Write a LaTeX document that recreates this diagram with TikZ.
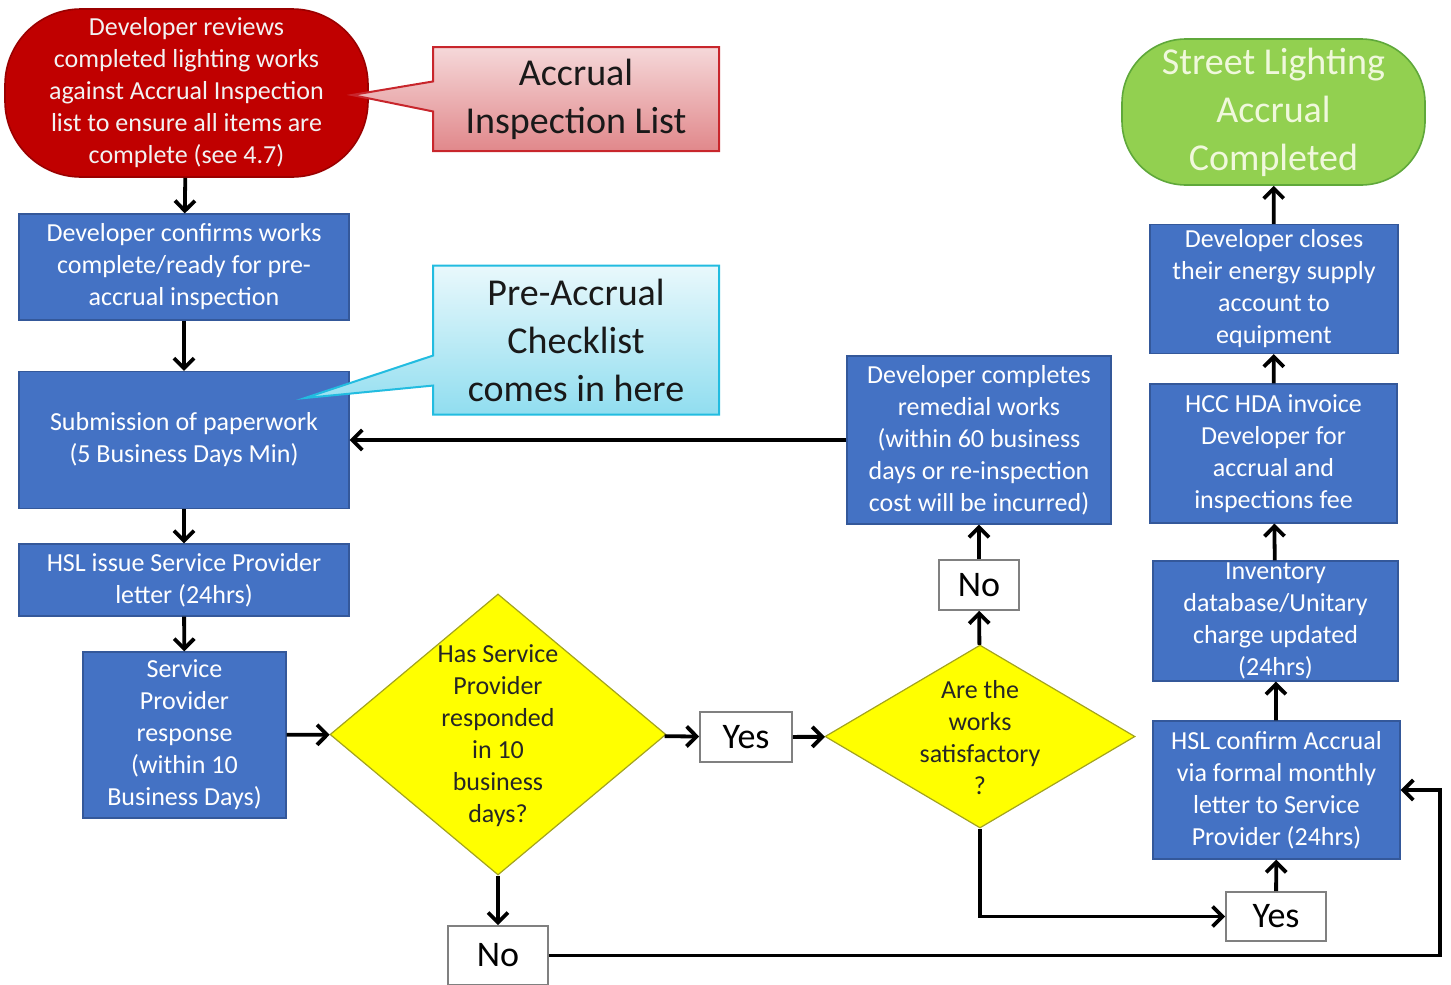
\documentclass[tikz,border=0pt]{standalone}
\usepackage{fontspec}
\setmainfont{Carlito}
\usetikzlibrary{arrows.meta, shapes.geometric, shapes.callouts}

\definecolor{procblue}{HTML}{4472C4}
\definecolor{procedge}{HTML}{34589A}
\definecolor{startred}{HTML}{C00000}
\definecolor{startedge}{HTML}{9A0000}
\definecolor{endgreen}{HTML}{92D050}
\definecolor{endedge}{HTML}{5FA83A}
\definecolor{endtext}{HTML}{F0F8DC}
\definecolor{askyellow}{HTML}{FFFF00}
\definecolor{askedge}{HTML}{A3A31E}
\definecolor{notepink}{HTML}{C8262C}
\definecolor{notecyan}{HTML}{22BCE0}

\begin{document}
\begin{tikzpicture}[
  x=0.5pt, y=-0.5pt,
  >={Straight Barb[length=5pt,width=10pt]},
  flow/.style={->, line width=1.9pt},
  procbox/.style={draw=procedge, fill=procblue, text=white, line width=0.6pt,
    align=center, inner sep=0pt, font=\fontsize{13}{16}\selectfont},
  startbox/.style={draw=startedge, fill=startred, text=white!95!black, line width=0.8pt,
    rounded corners=38pt, align=center, inner sep=0pt,
    minimum width=181.5pt, minimum height=84pt, font=\fontsize{13}{16}\selectfont},
  endbox/.style={draw=endedge, fill=endgreen, text=endtext, line width=0.8pt,
    rounded corners=32pt, align=center, inner sep=0pt,
    minimum width=151.5pt, minimum height=73pt, font=\fontsize{19}{24}\selectfont},
  decision/.style={diamond, draw=askedge, fill=askyellow, line width=0.6pt,
    inner sep=0pt, aspect=1.2},
  asktext/.style={align=center, inner sep=0pt, text=black!85,
    font=\fontsize{13}{16}\selectfont},
  answer/.style={draw=black!50, fill=white, line width=0.8pt, inner sep=0pt,
    minimum width=46pt, minimum height=25pt, font=\fontsize{18}{20}\selectfont},
  note/.style={rectangle callout, line width=1pt, align=center, inner sep=0pt,
    callout pointer width=15pt, minimum width=143pt, text=black!90,
    font=\fontsize{19}{24}\selectfont}
  ]
  \useasboundingbox (0,0) rectangle (1451,985);

  % left column
  \node[startbox] (review) at (186.5,93) {Developer reviews\\completed lighting works\\against Accrual Inspection\\list to ensure all items are\\complete (see 4.7)};
  \node[note, draw=notepink, top color=notepink!18, bottom color=notepink!55,
    minimum height=52pt, callout absolute pointer={(352,95)}] (acclist) at (576,99)
    {Accrual\\Inspection List};
  \node[procbox, minimum width=165pt, minimum height=53pt] (ready) at (184,267)
    {Developer confirms works\\complete/ready for pre-\\accrual inspection};
  \node[procbox, minimum width=165pt, minimum height=68.5pt] (submit) at (184,440)
    {Submission of paperwork\\(5 Business Days Min)};
  \node[note, draw=notecyan, top color=notecyan!10, bottom color=notecyan!50,
    minimum height=74.5pt, callout absolute pointer={(305,398)}] (checklist) at (576,340)
    {Pre-Accrual\\Checklist\\comes in here};
  \node[procbox, minimum width=165pt, minimum height=36pt] (issue) at (184,580)
    {HSL issue Service Provider\\letter (24hrs)};
  \node[procbox, minimum width=101.5pt, minimum height=83pt] (response) at (184.5,735)
    {Service\\Provider\\response\\(within 10\\Business Days)};

  % decisions
  \node[decision, minimum width=168pt, minimum height=140.5pt] (responded) at (498,734.5) {};
  \node[asktext] (respondedtext) at (498,736) {Has Service\\Provider\\responded\\in 10\\business\\days?};
  \node[answer] (yesA) at (746,737) {Yes};
  \node[decision, minimum width=155pt, minimum height=91.5pt] (works) at (980,736.5) {};
  \node[asktext] (workstext) at (980,738) {Are the\\works\\satisfactory\\?};
  \node[answer, minimum width=40pt] (noA) at (979,585) {No};
  \node[procbox, minimum width=132pt, minimum height=84pt] (remedial) at (979,440)
    {Developer completes\\remedial works\\(within 60 business\\days or re-inspection\\cost will be incurred)};
  \node[answer, minimum width=50pt, minimum height=29.5pt] (noB) at (498,955.5) {No};
  \node[answer, minimum width=50pt, minimum height=24.5pt] (yesB) at (1276,916.5) {Yes};

  % right column
  \node[procbox, minimum width=123.5pt, minimum height=69pt] (confirm) at (1276.5,790)
    {HSL confirm Accrual\\via formal monthly\\letter to Service\\Provider (24hrs)};
  \node[procbox, minimum width=122.5pt, minimum height=60pt] (inventory) at (1275.5,621)
    {Inventory\\database/Unitary\\charge updated\\(24hrs)};
  \node[procbox, minimum width=123.5pt, minimum height=69.5pt] (invoice) at (1273.5,453.5)
    {HCC HDA invoice\\Developer for\\accrual and\\inspections fee};
  \node[procbox, minimum width=124pt, minimum height=64.5pt] (closes) at (1274,289)
    {Developer closes\\their energy supply\\account to\\equipment};
  \node[endbox] (done) at (1273.5,112) {Street Lighting\\Accrual\\Completed};

  \coordinate (loop) at (1440,955.5);

  % connectors
  \draw[flow] (review) -- (ready);
  \draw[flow] (ready) -- (submit);
  \draw[flow] (submit) -- (issue);
  \draw[flow] (issue) -- (response);
  \draw[flow] (response) -- (responded);
  \draw[flow] (responded) -- (yesA);
  \draw[flow] (yesA) -- (works);
  \draw[flow] (works) -- (noA);
  \draw[flow] (noA) -- (remedial);
  \draw[flow] (remedial) -- (submit);
  \draw[flow] (responded) -- (noB);
  \draw[flow] (works.south) |- (yesB.west);
  \draw[flow] (yesB) -- (confirm);
  \draw[flow] (noB.east) -- (loop) |- (confirm.east);
  \draw[flow] (confirm) -- (inventory);
  \draw[flow] (inventory) -- (invoice);
  \draw[flow] (invoice) -- (closes);
  \draw[flow] (closes) -- (done);
\end{tikzpicture}
\end{document}
